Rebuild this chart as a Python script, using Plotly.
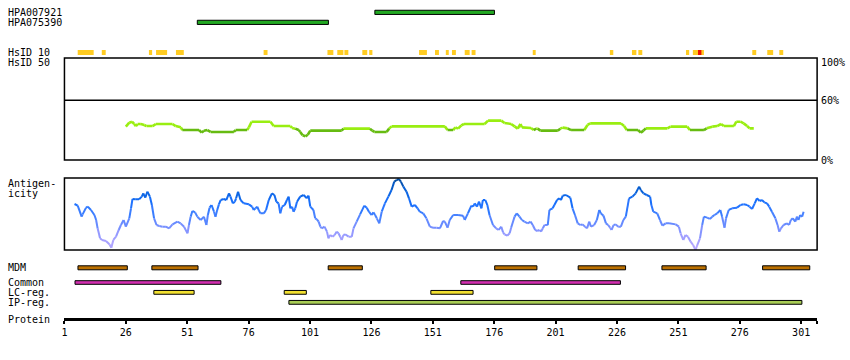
import plotly.graph_objects as go

# ---------------- data (residue positions / values) ----------------
antibody_names = ["HPA007921", "HPA075390"]
antibody_ranges = [(127.4, 176.1), (55.1, 108.5)]

hsid10_ranges = [(6.4, 12.9), (16.2, 17.8), (35.4, 36.7), (38.3, 42.8), (46.4, 49.6), (82.1, 83.7),
                 (108.1, 110.5), (112.1, 114.6), (115.0, 116.6), (122.3, 124.3), (125.1, 126.4),
                 (145.4, 148.6), (151.9, 153.5), (156.3, 157.5), (158.8, 160.4), (164.0, 166.0),
                 (166.8, 168.4), (191.7, 192.9), (223.1, 224.5), (232.1, 233.9), (234.7, 236.3),
                 (254.1, 255.4), (256.9, 259.0), (259.0, 260.6), (260.6, 261.4), (281.1, 282.7),
                 (287.2, 289.6), (292.1, 293.7)]
hsid10_level = ["mid"] * 23 + ["high"] + ["mid"] * 4

hsid50 = [(26.0, 33.5), (27.4, 37.5), (28.5, 38.5), (29.4, 36.2), (30.1, 34.1), (30.8, 36.2), (32.1, 36.2),
          (33.5, 35.2), (34.4, 34.1), (36.9, 34.1), (38.2, 36.2), (45.0, 36.2), (46.3, 34.1), (48.4, 32.8),
          (49.0, 30.1), (55.8, 30.1), (56.9, 27.5), (57.8, 29.4), (59.2, 30.1), (60.5, 28.2), (70.0, 28.2),
          (70.7, 30.1), (75.4, 30.1), (76.1, 32.8), (77.2, 38.5), (84.9, 38.5), (86.2, 34.1), (93.0, 34.1),
          (93.7, 32.2), (95.0, 31.5), (96.4, 30.1), (97.0, 28.2), (98.0, 24.8), (99.1, 23.8), (100.1, 25.4),
          (101.1, 29.5), (113.9, 29.5), (114.6, 31.5), (125.4, 31.5), (126.4, 29.5), (127.2, 28.2),
          (132.2, 28.2), (133.2, 31.5), (134.2, 33.8), (155.9, 33.8), (157.0, 30.1), (159.3, 30.1),
          (160.2, 32.8), (161.3, 31.5), (162.6, 34.8), (163.7, 36.2), (172.1, 36.2), (173.5, 39.6),
          (178.9, 39.6), (180.2, 37.2), (182.9, 36.2), (184.3, 33.8), (185.6, 31.5), (186.7, 36.2),
          (187.3, 32.8), (191.0, 32.2), (192.1, 30.1), (193.1, 31.5), (193.7, 31.5), (194.8, 29.5),
          (201.9, 29.5), (202.9, 31.5), (203.9, 32.5), (205.9, 31.8), (207.3, 30.1), (212.7, 30.1),
          (214.0, 35.2), (215.1, 36.8), (227.6, 36.8), (228.9, 34.1), (230.0, 30.1), (234.6, 30.1),
          (235.7, 27.5), (236.8, 29.5), (237.7, 31.8), (246.5, 31.8), (247.8, 33.5), (254.6, 33.5),
          (255.7, 30.1), (261.4, 30.1), (262.5, 31.8), (264.8, 33.5), (266.8, 34.1), (268.4, 36.2),
          (269.5, 34.1), (273.6, 34.1), (274.6, 38.5), (276.3, 38.5), (277.6, 36.8), (279.0, 34.1),
          (280.0, 31.8), (281.7, 31.8)]

antigenicity = [(5.1, 63.9), (6.4, 61.6), (8.0, 46.3), (8.4, 49.5), (9.8, 58.8), (10.5, 60.2), (11.8, 55.6),
                (13.2, 48.6), (13.9, 41.7), (14.5, 30.1), (15.5, 16.2), (16.3, 13.9), (17.9, 12.5), (19.3, 7.9),
                (20.1, 3.2), (20.9, 13.9), (22.0, 18.5), (23.1, 27.8), (24.0, 34.7), (25.1, 41.7), (26.0, 32.4),
                (27.4, 44.0), (28.1, 57.9), (28.7, 70.8), (29.8, 70.4), (31.4, 70.4), (32.5, 74.1), (33.1, 78.7),
                (33.9, 72.7), (34.8, 81.0), (35.8, 74.1), (36.6, 62.5), (37.5, 44.0), (38.5, 34.7), (39.6, 33.3),
                (40.9, 32.4), (42.3, 32.4), (43.6, 30.1), (45.0, 35.6), (47.0, 39.4), (48.3, 37.0), (49.7, 32.4),
                (51.1, 23.1), (51.7, 34.7), (52.4, 46.3), (53.1, 54.2), (54.2, 52.3), (55.1, 46.3), (56.5, 41.7),
                (57.8, 46.3), (58.8, 34.7), (59.4, 48.6), (60.1, 58.8), (60.9, 62.5), (61.9, 53.2), (62.5, 46.3),
                (63.2, 55.6), (63.9, 63.4), (64.6, 69.4), (65.9, 70.8), (66.9, 69.4), (68.0, 78.7), (68.6, 74.1),
                (69.6, 64.8), (70.4, 67.1), (70.9, 71.8), (71.7, 81.0), (72.7, 69.4), (74.0, 64.8), (76.1, 63.4),
                (77.4, 60.2), (78.1, 55.6), (78.8, 57.9), (79.5, 60.2), (80.1, 55.6), (80.8, 50.9), (82.2, 50.9),
                (83.1, 55.6), (84.2, 69.4), (85.5, 78.7), (86.5, 76.4), (87.3, 67.1), (88.2, 64.8), (88.9, 50.9),
                (89.6, 60.2), (90.7, 62.5), (91.6, 69.4), (92.3, 74.1), (93.0, 57.9), (93.7, 60.2), (94.3, 53.2),
                (95.0, 57.9), (95.7, 67.1), (97.0, 74.1), (98.4, 76.4), (99.7, 71.8), (100.4, 75.5), (101.1, 60.2),
                (102.4, 55.6), (103.1, 44.0), (103.8, 42.6), (104.5, 39.4), (105.2, 32.4), (105.8, 30.1),
                (106.9, 32.4), (107.9, 25.5), (108.5, 16.2), (109.2, 20.8), (110.2, 18.5), (111.0, 20.8),
                (111.9, 25.5), (112.6, 23.2), (113.3, 18.5), (113.9, 13.9), (114.6, 20.8), (115.3, 21.8),
                (116.7, 18.5), (118.0, 18.5), (118.7, 30.1), (120.0, 39.4), (121.4, 49.5), (123.1, 61.6),
                (124.1, 58.8), (125.0, 53.2), (126.1, 48.6), (126.8, 52.3), (127.5, 48.6), (128.2, 44.0),
                (129.2, 37.0), (130.2, 53.2), (131.5, 64.8), (132.9, 74.1), (134.2, 83.3), (135.3, 94.9),
                (136.3, 97.2), (137.2, 98.6), (138.0, 94.9), (139.0, 88.0), (140.3, 81.0), (141.3, 71.8),
                (142.4, 60.2), (143.7, 62.5), (144.8, 57.9), (145.7, 53.2), (147.1, 50.9), (148.4, 44.0),
                (149.8, 32.4), (151.1, 31.0), (152.5, 31.0), (153.9, 30.1), (155.2, 40.3), (155.9, 39.4),
                (157.0, 31.0), (157.9, 41.7), (159.3, 48.6), (161.3, 48.6), (163.3, 47.7), (164.0, 41.7),
                (165.3, 50.9), (166.7, 61.6), (167.4, 60.2), (168.1, 64.8), (169.0, 60.2), (169.8, 67.1),
                (170.8, 57.9), (171.4, 69.4), (172.4, 69.4), (173.2, 62.5), (174.1, 48.6), (175.5, 34.7),
                (176.8, 30.1), (177.8, 27.8), (178.9, 32.4), (179.6, 24.5), (180.2, 21.8), (181.3, 19.9),
                (182.3, 23.2), (182.9, 31.0), (184.3, 46.3), (185.2, 50.9), (186.3, 46.3), (187.3, 41.7),
                (188.3, 39.4), (189.7, 37.0), (190.8, 39.4), (191.7, 34.7), (192.7, 27.8), (193.5, 26.4),
                (194.4, 27.8), (195.1, 25.5), (195.8, 30.1), (196.5, 34.7), (197.8, 34.7), (198.5, 55.6),
                (199.8, 57.9), (200.5, 62.5), (201.6, 69.4), (202.5, 71.8), (203.2, 69.4), (203.9, 75.5),
                (205.2, 76.4), (207.0, 72.7), (207.9, 57.9), (208.9, 48.6), (210.0, 37.0), (211.1, 34.7),
                (212.0, 35.6), (213.0, 32.4), (213.8, 30.1), (214.7, 39.4), (215.4, 32.4), (216.7, 34.7),
                (217.8, 41.7), (218.8, 55.6), (219.4, 50.9), (220.5, 47.7), (221.5, 37.0), (222.4, 34.7),
                (223.2, 31.0), (223.8, 27.8), (224.6, 34.7), (225.5, 35.6), (226.5, 32.4), (227.6, 32.4),
                (228.6, 41.7), (229.6, 46.3), (230.9, 71.8), (232.3, 74.1), (233.6, 78.7), (235.0, 88.0),
                (235.7, 83.3), (236.8, 78.7), (238.1, 76.4), (239.5, 74.1), (240.0, 62.5), (240.8, 53.2),
                (242.4, 50.9), (243.5, 41.7), (244.5, 33.8), (245.8, 37.0), (247.2, 37.0), (249.9, 35.6),
                (251.2, 32.4), (251.9, 23.2), (253.0, 13.9), (253.9, 20.8), (254.9, 18.5), (256.0, 11.6),
                (257.0, 6.9), (258.0, 0.0), (258.7, 6.9), (259.8, 16.2), (260.7, 34.7), (261.4, 46.3),
                (262.7, 44.9), (263.8, 43.1), (264.8, 46.3), (265.7, 48.6), (266.8, 50.9), (268.1, 55.6),
                (268.8, 46.3), (269.8, 31.0), (270.4, 44.0), (271.5, 55.6), (272.9, 57.9), (274.9, 58.8),
                (276.3, 62.5), (277.6, 63.4), (279.0, 62.5), (280.0, 60.2), (281.0, 57.0), (282.1, 64.8),
                (283.0, 71.8), (284.1, 68.1), (285.0, 69.4), (286.0, 66.2), (287.1, 64.8), (288.0, 60.2),
                (289.1, 53.2), (290.5, 44.0), (291.4, 34.7), (292.1, 25.5), (292.8, 30.1), (293.8, 34.7),
                (295.2, 37.0), (296.1, 34.7), (296.8, 41.7), (297.6, 44.0), (298.6, 39.4), (299.3, 46.3),
                (299.9, 41.7), (300.6, 48.6), (301.4, 46.3), (302.0, 53.2)]

feature_names = ["MDM", "Common", "LC-reg.", "IP-reg."]
mdm_ranges = [(6.5, 26.6), (36.6, 55.4), (108.4, 122.3), (176.2, 193.4), (210.2, 229.5), (244.3, 262.3), (285.3, 304.5)]
common_ranges = [(5.3, 64.7), (162.4, 227.4)]
lc_ranges = [(37.4, 53.8), (90.5, 99.5), (150.2, 167.4)]
ip_ranges = [(92.4, 301.3)]

protein_ticks = [1, 26, 51, 76, 101, 126, 151, 176, 201, 226, 251, 276, 301]
protein_end = 307.5

# ---------------- styling ----------------
W, H = 850, 360
FONT = "DejaVu Sans Mono"
def py(p):
    return 1 - p / H

fig = go.Figure()
layout_axes = {}

def row_axis(name, center, half):
    layout_axes[name] = dict(domain=[py(center + half), py(center - half)], range=[0, 1],
                             visible=False, fixedrange=True, anchor="x")

def add_bars(axis_ref, ranges, colors, thick_frac, outline=True):
    fig.add_trace(go.Bar(orientation="h", base=[s for s, e in ranges], x=[e - s for s, e in ranges],
                         y=[0.5] * len(ranges), width=thick_frac, xaxis="x", yaxis=axis_ref,
                         marker=dict(color=colors, line=dict(color="black", width=1 if outline else 0)),
                         hoverinfo="skip"))

# antibodies
row_axis("yaxis", 12.35, 5)
row_axis("yaxis2", 22.35, 5)
add_bars("y", [antibody_ranges[0]], "#22a822", 0.42)
add_bars("y2", [antibody_ranges[1]], "#22a822", 0.42)

# HsID 10
row_axis("yaxis3", 52.5, 5)
add_bars("y3", hsid10_ranges, ["#ee1100" if l == "high" else "#ffcc22" for l in hsid10_level], 0.5, outline=False)

# HsID 50 panel
layout_axes["yaxis4"] = dict(domain=[py(160), py(58)], range=[0, 102.5], visible=False, fixedrange=True, anchor="x")
bright, dark = "#99ee11", "#66bb11"
segs = {bright: ([], []), dark: ([], [])}
for (r0, v0), (r1, v1) in zip(hsid50[:-1], hsid50[1:]):
    c = bright if (v0 + v1) / 2 >= 31 else dark
    segs[c][0].extend([r0, r1, None]); segs[c][1].extend([v0, v1, None])
for c, (xs, ys) in segs.items():
    fig.add_trace(go.Scatter(x=xs, y=ys, mode="lines", line=dict(color=c, width=2.6),
                             xaxis="x", yaxis="y4", hoverinfo="skip"))

# Antigenicity panel
layout_axes["yaxis5"] = dict(domain=[py(250), py(178)], range=[0, 100], visible=False, fixedrange=True, anchor="x")
stops = [(0.0, (184, 168, 255)), (0.2, (156, 156, 255)), (0.35, (110, 140, 255)), (0.5, (64, 128, 255)),
         (0.65, (26, 112, 255)), (0.8, (10, 100, 224)), (1.0, (0, 72, 154))]
def cmap(t):
    t = max(0, min(1, t))
    for (a, ca), (b, cb) in zip(stops[:-1], stops[1:]):
        if t <= b:
            f = (t - a) / (b - a)
            return "rgb(%d,%d,%d)" % tuple(round(ca[i] + f * (cb[i] - ca[i])) for i in range(3))
    return "rgb(%d,%d,%d)" % stops[-1][1]
NB = 20
bins = {}
for (r0, v0), (r1, v1) in zip(antigenicity[:-1], antigenicity[1:]):
    b = min(NB - 1, int((v0 + v1) / 2 / 100 * NB))
    xs, ys = bins.setdefault(b, ([], []))
    xs.extend([r0, r1, None]); ys.extend([v0, v1, None])
for b, (xs, ys) in sorted(bins.items()):
    fig.add_trace(go.Scatter(x=xs, y=ys, mode="lines", line=dict(color=cmap((b + 0.5) / NB), width=2),
                             xaxis="x", yaxis="y5", hoverinfo="skip"))

# Features
row_axis("yaxis6", 267.8, 5)
row_axis("yaxis7", 282.5, 5)
row_axis("yaxis8", 292.35, 5)
row_axis("yaxis9", 302.35, 5)
add_bars("y6", mdm_ranges, "#bb7000", 0.4)
add_bars("y7", common_ranges, "#d22fb0", 0.36)
add_bars("y8", lc_ranges, "#f2e030", 0.38)
add_bars("y9", ip_ranges, "#a8cc55", 0.38)

# shapes: panel frames and 60% line
shapes = []
for yr in ["y4", "y5"]:
    shapes.append(dict(type="rect", xref="x domain", yref=yr + " domain", x0=0, x1=1, y0=0, y1=1,
                       line=dict(color="black", width=1.5), layer="above"))
shapes.append(dict(type="line", xref="x domain", yref="y4", x0=0, x1=1, y0=60, y1=60,
                   line=dict(color="black", width=1.5)))

# text labels
ann = []
def label(text, ypx, xpx=3, anchor="left"):
    ann.append(dict(text=text, xref="paper", yref="paper", x=xpx / W, y=py(ypx), xanchor=anchor,
                    yanchor="middle", showarrow=False, font=dict(family=FONT, size=10, color="black")))
label(antibody_names[0], 12.5)
label(antibody_names[1], 22.5)
label("HsID 10", 52.7)
label("HsID 50", 62.7)
label("Antigen-", 183.3)
label("icity", 193.3)
for name, ypx in zip(feature_names, [267.7, 282.3, 292.3, 302.3]):
    label(name, ypx)
label("Protein", 319.7)
label("100%", 62.7, 819)
label("60%", 100.7, 819)
label("0%", 160, 819)

fig.update_layout(
    width=W, height=H, margin=dict(l=0, r=0, t=0, b=0),
    paper_bgcolor="white", plot_bgcolor="white", showlegend=False, barmode="overlay",
    xaxis=dict(domain=[61.67 / W, 817 / W], range=[1, protein_end], anchor="free", position=py(319),
               showline=True, linecolor="black", linewidth=3, ticks="outside", ticklen=3, tickwidth=2,
               tickcolor="black", tickvals=protein_ticks + [protein_end],
               ticktext=[str(t) for t in protein_ticks] + [""], showgrid=False, zeroline=False,
               tickfont=dict(family=FONT, size=10, color="black"), fixedrange=True),
    shapes=shapes, annotations=ann, **layout_axes)

fig.write_html("out.html")
